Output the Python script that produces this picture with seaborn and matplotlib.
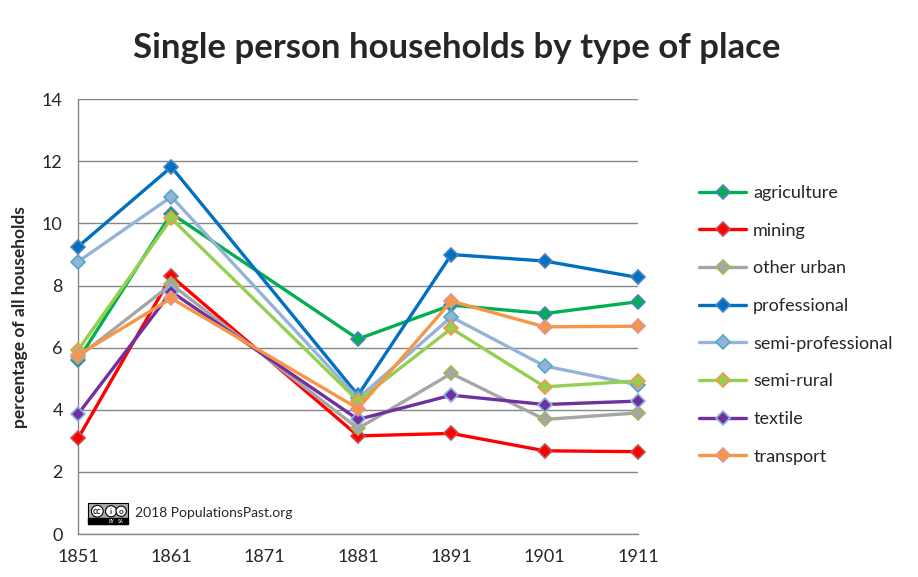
import pandas as pd
import numpy as np
import matplotlib.pyplot as plt
from matplotlib.patches import FancyBboxPatch
import seaborn as sns

years = [1851, 1861, 1881, 1891, 1901, 1911]

agriculture       = [5.6, 10.32, 6.28, 7.37, 7.10, 7.48]
mining            = [3.08, 8.30, 3.16, 3.24, 2.68, 2.65]
other_urban       = [5.7, 8.04, 3.40, 5.17, 3.69, 3.90]
professional      = [9.25, 11.82, 4.47, 9.00, 8.79, 8.26]
semi_professional = [8.77, 10.86, 4.37, 6.99, 5.41, 4.80]
semi_rural        = [5.92, 10.16, 4.29, 6.62, 4.74, 4.93]
textile           = [3.86, 7.80, 3.69, 4.47, 4.17, 4.28]
transport         = [5.76, 7.59, 4.04, 7.50, 6.67, 6.69]

series = {
    'agriculture': agriculture,
    'mining': mining,
    'other urban': other_urban,
    'professional': professional,
    'semi-professional': semi_professional,
    'semi-rural': semi_rural,
    'textile': textile,
    'transport': transport,
}

# line colour, marker edge colour
STYLE = {
    'agriculture'      : ('#00B050', '#4F81BD'),
    'mining'           : ('#FF0000', '#C0504D'),
    'other urban'      : ('#A6A6A6', '#9BBB59'),
    'professional'     : ('#0070C0', '#4F81BD'),
    'semi-professional': ('#95B3D7', '#4BACC6'),
    'semi-rural'       : ('#92D050', '#F79646'),
    'textile'          : ('#7030A0', '#8EB4E3'),
    'transport'        : ('#F79646', '#D99694'),
}

sns.set_style('white')
plt.rcParams['font.family'] = ['Lato', 'DejaVu Sans']

fig = plt.figure(figsize=(9.18, 5.77), dpi=100)
ax = fig.add_axes([0.085, 0.0745, 0.61, 0.7535])

for name, vals in series.items():
    line_c, edge_c = STYLE[name]
    d = pd.DataFrame({'year': years, 'value': vals})
    sns.lineplot(data=d, x='year', y='value', ax=ax, color=line_c,
                 linewidth=2.4, marker='D', markersize=7.5,
                 markerfacecolor=line_c, markeredgecolor=edge_c,
                 markeredgewidth=1.2, label=name, clip_on=False, zorder=3)

ax.set_xlim(1851, 1911)
ax.set_ylim(0, 14)
ax.set_xticks(range(1851, 1912, 10))
ax.set_yticks(range(0, 15, 2))
ax.yaxis.grid(True, color='#868686', linewidth=1)
ax.set_axisbelow(True)
for s in ['top', 'right']:
    ax.spines[s].set_visible(False)
for s in ['left', 'bottom']:
    ax.spines[s].set_color('#868686')
    ax.spines[s].set_linewidth(1)
ax.tick_params(axis='both', which='major', labelsize=13, length=5,
               color='#868686', direction='out', pad=6)
ax.set_xlabel('')
ax.set_ylabel('percentage of all households', fontsize=12.5,
              fontweight='bold', labelpad=10)

fig.suptitle('Single person households by type of place', fontsize=25,
             fontweight='bold', x=0.498, y=0.945)

leg = ax.legend(loc='upper left', bbox_to_anchor=(1.08, 0.84), frameon=False,
                fontsize=13, labelspacing=1.2, handlelength=2.6,
                handletextpad=0.4)

# CC badge and credit
fig.patches.append(FancyBboxPatch((0.096, 0.092), 0.043, 0.037,
                                  boxstyle='square,pad=0', transform=fig.transFigure,
                                  facecolor='#ABABAB', edgecolor='black', linewidth=0.8))
fig.patches.append(FancyBboxPatch((0.096, 0.092), 0.043, 0.011,
                                  boxstyle='square,pad=0', transform=fig.transFigure,
                                  facecolor='black', edgecolor='black'))
fig.text(0.106, 0.114, 'cc', fontsize=6.5, fontweight='bold', ha='center', va='center',
         bbox=dict(boxstyle='circle,pad=0.15', fc='white', ec='black', lw=0.8))
fig.text(0.121, 0.114, 'i', fontsize=6, fontweight='bold', ha='center', va='center',
         bbox=dict(boxstyle='circle,pad=0.25', fc='white', ec='black', lw=0.8))
fig.text(0.132, 0.114, 'o', fontsize=6, fontweight='bold', ha='center', va='center',
         bbox=dict(boxstyle='circle,pad=0.2', fc='white', ec='black', lw=0.8))
fig.text(0.121, 0.097, 'BY', fontsize=3.5, color='white', ha='center', va='center')
fig.text(0.132, 0.097, 'SA', fontsize=3.5, color='white', ha='center', va='center')
fig.text(0.147, 0.111, '2018 PopulationsPast.org', fontsize=10, ha='left', va='center')

fig.savefig('out.png', dpi=100)
